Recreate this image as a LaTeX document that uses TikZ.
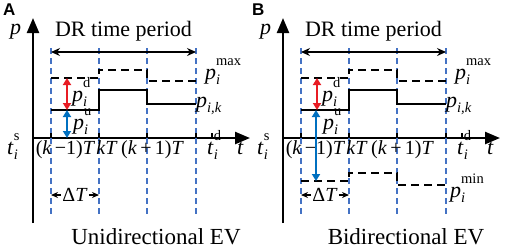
\documentclass[tikz,border=0pt]{standalone}
\usepackage{fontspec}
\setmainfont{Liberation Serif}
\newfontfamily\hvfont{Liberation Sans}
\usetikzlibrary{arrows.meta}
\definecolor{guideblue}{RGB}{68,114,196}
\definecolor{arrred}{RGB}{232,28,36}
\definecolor{arrblue}{RGB}{0,112,192}
\newcommand{\vlab}[3]{\textit{#1}\rlap{\raisebox{0.62em}{\fontsize{14.5}{14.5}\selectfont #2}}\raisebox{-0.24em}{\fontsize{14.5}{14.5}\selectfont\textit{#3}}}
\newcommand{\drawpanel}[2]{%
  \coordinate (#1o) at (33,138);
  \coordinate (#1ytop) at (33,18);
  \coordinate (#1ybot) at (33,223);
  \coordinate (#1xend) at (250,138);
  \draw[axisline] (#1ybot) -- (#1ytop);
  \draw[axisline] (#1o) -- (#1xend);
  \foreach \x [count=\n] in {51,99,147,196} {
    \coordinate (#1v\n t) at (\x,48);
    \coordinate (#1v\n b) at (\x,215);
    \coordinate (#1k\n t) at (\x,133);
    \coordinate (#1k\n b) at (\x,138);
    \draw[guide] (#1v\n t) -- (#1v\n b);
    \draw[tickmark] (#1k\n t) -- (#1k\n b);
  }
  \coordinate (#1kdt) at (212,133);
  \coordinate (#1kdb) at (212,138);
  \draw[tickmark] (#1kdt) -- (#1kdb);
  % DR period arrow
  \coordinate (#1drL) at (51,52);
  \coordinate (#1drR) at (196,52);
  \draw[thinarrow] (#1drL) -- (#1drR);
  \node[txt,anchor=base] (#1drtxt) at (123.5,36) {DR time period};
  \node[txt,anchor=base west] (#1plab) at (10,34) {\textit{p}};
  % pmax dashed
  \coordinate (#1m1) at (51,78);
  \coordinate (#1m2) at (99,78);
  \coordinate (#1m3) at (99,70);
  \coordinate (#1m4) at (147,70);
  \coordinate (#1m5) at (147,81);
  \coordinate (#1m6) at (196,81);
  \draw[limitline] (#1m1) -- (#1m2) -- (#1m3) -- (#1m4) -- (#1m5) -- (#1m6);
  % p_{i,k} solid
  \coordinate (#1s1) at (51,110);
  \coordinate (#1s2) at (99,110);
  \coordinate (#1s3) at (99,90);
  \coordinate (#1s4) at (147,90);
  \coordinate (#1s5) at (147,104);
  \coordinate (#1s6) at (196,104);
  \draw[stepline] (#1s1) -- (#1s2) -- (#1s3) -- (#1s4) -- (#1s5) -- (#1s6);
  % red arrow
  \coordinate (#1rt) at (67,78);
  \coordinate (#1rb) at (67,110);
  \draw[colarrow,arrred] (#1rt) -- (#1rb);
  % labels
  \node[txt,anchor=base west] (#1pd) at (72,101) {\vlab{p}{d}{i}};
  \node[txt,anchor=base west] (#1pu) at (73,129) {\vlab{p}{u}{i}};
  \node[txt,anchor=base west] (#1pmax) at (205,79) {\vlab{p}{max}{i}};
  \node[txt,anchor=base west] (#1pik) at (196,107) {\textit{p}\raisebox{-0.24em}{\fontsize{14.5}{14.5}\selectfont\textit{i,k}}};
  \node[txt,anchor=base west] (#1ts) at (7,154) {\vlab{t}{s}{i}};
  \node[txt,anchor=base west] (#1td) at (207,154) {\vlab{t}{d}{i}};
  \node[txt,anchor=base west] (#1t) at (237,154) {\textit{t}};
  \node[txt2,anchor=base] (#1km) at (65.5,154) {(\textit{k}\,−1)\textit{T}};
  \node[txt2,anchor=base] (#1kk) at (107,154) {\textit{kT}};
  \node[txt2,anchor=base] (#1kp) at (152.5,154) {(\textit{k}\,+\,1)\textit{T}};
  % Delta T
  \node[txt2,anchor=base,inner xsep=1pt] (#1dt) at (75,201) {Δ\textit{T}};
  \coordinate (#1dtL) at (51,195);
  \coordinate (#1dtR) at (99,195);
  \draw[smallarrow] (#1dt.west |- #1dtL) -- (#1dtL);
  \draw[smallarrow] (#1dt.east |- #1dtR) -- (#1dtR);
  \node[txt,anchor=base,font=\fontsize{23}{26}\selectfont] (#1cap) at (156,244) {#2};
}
\begin{document}
\begin{tikzpicture}[x=1pt,y=-1pt,
  axisline/.style={line width=2.4pt,-{Triangle[length=15pt,width=12pt]}},
  guide/.style={draw=guideblue,line width=1.1pt,dash pattern=on 6pt off 4pt},
  tickmark/.style={line width=1.2pt},
  thinarrow/.style={line width=1.2pt,{Stealth[length=9pt,width=8pt]}-{Stealth[length=9pt,width=8pt]}},
  smallarrow/.style={line width=1.2pt,-{Stealth[length=7pt,width=6pt]}},
  limitline/.style={line width=2.2pt,dash pattern=on 8pt off 5pt},
  stepline/.style={line width=2.2pt},
  colarrow/.style={line width=2.2pt,{Triangle[length=7pt,width=8pt]}-{Triangle[length=7pt,width=8pt]}},
  txt/.style={font=\fontsize{22}{26}\selectfont,inner sep=0pt},
  txt2/.style={font=\fontsize{20}{24}\selectfont,inner sep=0pt}]
\useasboundingbox (0,0) rectangle (505,250);
\begin{scope}
  \drawpanel{A}{Unidirectional EV}
  \coordinate (Abt) at (67,110);
  \coordinate (Abb) at (67,138);
  \draw[colarrow,arrblue] (Abt) -- (Abb);
  \node[anchor=base west,inner sep=0pt,font=\hvfont\bfseries\fontsize{17}{17}\selectfont] (Alet) at (3,15) {A};
\end{scope}
\begin{scope}[shift={(250,0)}]
  \drawpanel{B}{Bidirectional EV}
  \coordinate (Bn1) at (51,181);
  \coordinate (Bn2) at (99,181);
  \coordinate (Bn3) at (99,173);
  \coordinate (Bn4) at (147,173);
  \coordinate (Bn5) at (147,185);
  \coordinate (Bn6) at (196,185);
  \draw[limitline] (Bn1) -- (Bn2) -- (Bn3) -- (Bn4) -- (Bn5) -- (Bn6);
  \node[txt,anchor=base west] (Bpmin) at (200,197) {\vlab{p}{min}{i}};
  \coordinate (Bbt) at (66,110);
  \coordinate (Bbb) at (66,181);
  \draw[colarrow,arrblue] (Bbt) -- (Bbb);
  \node[anchor=base west,inner sep=0pt,font=\hvfont\bfseries\fontsize{17}{17}\selectfont] (Blet) at (2,15) {B};
\end{scope}
\end{tikzpicture}
\end{document}
